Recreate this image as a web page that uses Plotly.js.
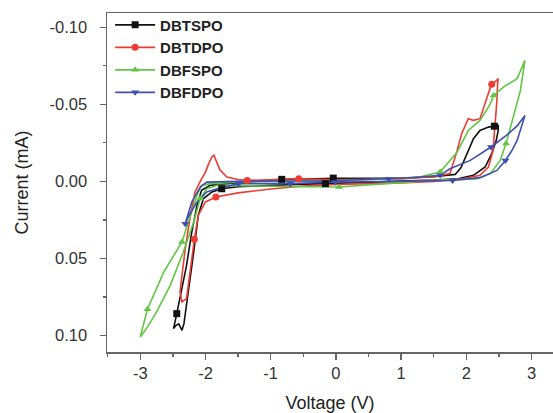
<!DOCTYPE html>
<html>
<head>
<meta charset="utf-8">
<script src="https://cdn.plot.ly/plotly-3.0.1.min.js"></script>
<style>html,body{margin:0;padding:0;background:#fff;}#chart{width:553px;height:413px;}</style>
</head>
<body>
<div id="chart"></div>
<script>
// ---- Data (Voltage in V, Current in mA) ----
const seriesNames = ['DBTSPO', 'DBTDPO', 'DBFSPO', 'DBFDPO'];

const blackV = [0, 0.5, 1.0, 1.5, 1.83, 1.92, 2.01, 2.11, 2.21, 2.34, 2.43, 2.49, 2.49, 2.46, 2.39, 2.29, 2.11, 1.87, 1.5, 1.0, 0.5, -0.16, -0.5, -1.0, -1.5, -1.75, -1.90, -2.03, -2.11, -2.18, -2.26, -2.33, -2.36, -2.41, -2.45, -2.49, -2.44, -2.29, -2.21, -2.13, -2.06, -1.93, -1.5, -0.83, -0.5, -0.04, 0];
const blackI = [-0.002, -0.002, -0.0022, -0.003, -0.0045, -0.009, -0.018, -0.0277, -0.033, -0.0352, -0.0358, -0.0363, -0.033, -0.0266, -0.018, -0.0093, -0.0039, -0.0017, -0.0008, 0.0, 0.0008, 0.0015, 0.0018, 0.0025, 0.0035, 0.0048, 0.0069, 0.0112, 0.022, 0.0459, 0.0718, 0.0924, 0.0967, 0.0925, 0.0935, 0.0956, 0.0859, 0.0545, 0.0329, 0.0156, 0.0058, 0.0026, 0.0008, -0.0013, -0.0015, -0.0021, -0.002];
const blackMarkV = [2.43, -0.04, -0.16, -0.83, -1.75, -2.44];
const blackMarkI = [-0.0358, -0.0021, 0.0015, -0.0013, 0.0048, 0.0859];

const redV = [0, 0.5, 1.0, 1.5, 1.75, 1.86, 1.93, 2.03, 2.11, 2.21, 2.29, 2.37, 2.39, 2.44, 2.49, 2.48, 2.47, 2.44, 2.41, 2.34, 2.21, 1.95, 1.5, 1.0, 0.5, 0, -0.5, -1.0, -1.5, -1.84, -2.00, -2.11, -2.17, -2.23, -2.29, -2.36, -2.39, -2.36, -2.31, -2.23, -2.16, -2.08, -2.00, -1.95, -1.90, -1.87, -1.83, -1.78, -1.67, -1.5, -1.36, -1.0, -0.57, 0];
const redI = [-0.001, -0.0012, -0.0015, -0.003, -0.005, -0.020, -0.031, -0.0407, -0.0396, -0.0407, -0.0515, -0.061, -0.063, -0.0645, -0.0667, -0.063, -0.0526, -0.035, -0.020, -0.0093, -0.0039, -0.0017, 0.0, 0.001, 0.0015, 0.002, 0.003, 0.005, 0.0075, 0.0102, 0.0134, 0.022, 0.0376, 0.0589, 0.0761, 0.0783, 0.0718, 0.061, 0.0437, 0.022, 0.0069, 0.0, -0.006, -0.0115, -0.016, -0.0169, -0.013, -0.0075, -0.0028, -0.0012, -0.0006, -0.001, -0.0017, -0.001];
const redMarkV = [2.39, -0.57, -1.36, -1.84, -2.17];
const redMarkI = [-0.063, -0.0017, -0.0006, 0.0102, 0.0376];

const greenV = [0, 0.5, 1.0, 1.3, 1.60, 1.70, 1.86, 2.03, 2.21, 2.37, 2.42, 2.57, 2.78, 2.90, 2.83, 2.72, 2.61, 2.52, 2.37, 2.16, 1.86, 1.5, 1.0, 0.5, 0.05, -0.5, -1.0, -1.5, -1.82, -1.98, -2.08, -2.18, -2.34, -2.54, -2.75, -2.88, -3.00, -2.89, -2.64, -2.36, -2.23, -2.13, -2.06, -1.93, -1.5, -1.0, -0.5, 0];
const greenI = [-0.0005, -0.001, -0.002, -0.003, -0.006, -0.011, -0.019, -0.033, -0.0396, -0.0504, -0.0558, -0.0612, -0.0667, -0.0785, -0.059, -0.0417, -0.0245, -0.0136, -0.005, -0.0015, -0.0012, -0.0008, 0.0008, 0.0025, 0.0037, 0.0035, 0.0032, 0.003, 0.0026, 0.0048, 0.0112, 0.0264, 0.0459, 0.0675, 0.0848, 0.094, 0.101, 0.083, 0.0589, 0.0394, 0.022, 0.0091, 0.0026, 0.0015, 0.0005, 0.0, -0.0003, -0.0005];
const greenMarkV = [2.42, 2.61, 1.60, 0.05, -2.08, -2.36, -2.89];
const greenMarkI = [-0.0558, -0.0245, -0.006, 0.0037, 0.0112, 0.0394, 0.083];

const blueV = [0, 0.81, 1.2, 1.6, 1.75, 2.06, 2.38, 2.62, 2.78, 2.90, 2.85, 2.78, 2.70, 2.60, 2.47, 2.21, 1.79, 1.2, 0.5, -0.01, -0.70, -1.2, -1.49, -1.82, -1.98, -2.13, -2.25, -2.31, -2.21, -2.08, -1.98, -1.5, -1.0, -0.5, 0];
const blueI = [-0.0004, -0.0015, -0.0025, -0.0039, -0.0082, -0.0136, -0.0223, -0.030, -0.036, -0.0428, -0.0363, -0.0266, -0.020, -0.0136, -0.0071, -0.0024, -0.0006, 0.0, 0.0003, 0.0004, 0.0015, 0.0015, 0.0015, 0.0048, 0.0069, 0.0134, 0.022, 0.0275, 0.0134, 0.0037, 0.0005, 0.0, -0.0002, -0.0003, -0.0004];
const blueMarkV = [2.38, 2.60, 1.79, 1.60, 0.81, -0.01, -0.70, -1.49, -2.31];
const blueMarkI = [-0.0223, -0.0136, -0.0006, -0.0039, -0.0015, 0.0004, 0.0015, 0.0015, 0.0275];

const xTickVals = [-3, -2, -1, 0, 1, 2, 3];
const xTickText = ['-3', '-2', '-1', '0', '1', '2', '3'];
const yTickVals = [-0.10, -0.05, 0.00, 0.05, 0.10];
const yTickText = ['-0.10', '-0.05', '0.00', '0.05', '0.10'];

// ---- Styles ----
const colors = ['#111111', '#ee3b33', '#62c644', '#3f4fb0'];
const symbols = ['square', 'circle', 'triangle-up', 'triangle-down'];
const loops = [[blackV, blackI], [redV, redI], [greenV, greenI], [blueV, blueI]];
const marks = [[blackMarkV, blackMarkI], [redMarkV, redMarkI], [greenMarkV, greenMarkI], [blueMarkV, blueMarkI]];

function sep(a) { const out = []; a.forEach((v, i) => { if (i) out.push(null); out.push(v); }); return out; }

const FONT = 'Liberation Sans, Arial, sans-serif';
const traces = [];
seriesNames.forEach((name, k) => {
  traces.push({
    x: loops[k][0], y: loops[k][1], mode: 'lines', type: 'scatter',
    line: {color: colors[k], width: 1.6},
    showlegend: false, hoverinfo: 'skip', legendgroup: name
  });
});
seriesNames.forEach((name, k) => {
  traces.push({
    x: sep(marks[k][0]), y: sep(marks[k][1]), mode: 'lines+markers', type: 'scatter',
    name: name, legendgroup: name, connectgaps: false,
    line: {color: colors[k], width: 1.6},
    marker: {color: colors[k], symbol: symbols[k], size: 7}
  });
});

const layout = {
  width: 553, height: 413,
  margin: {l: 107, r: 0, t: 13, b: 61},
  paper_bgcolor: '#fff', plot_bgcolor: '#fff',
  font: {family: FONT, color: '#333', size: 16.5},
  showlegend: true,
  legend: {
    x: 0.007, y: 1.013, xanchor: 'left', yanchor: 'top',
    bgcolor: 'rgba(0,0,0,0)', borderwidth: 0,
    font: {family: FONT, size: 15, color: '#222', weight: 'bold'},
    itemwidth: 40, tracegroupgap: 0
  },
  xaxis: {
    range: [-3.51, 3.33], tickvals: xTickVals, ticktext: xTickText,
    ticks: 'outside', ticklen: 6, tickwidth: 1.3, tickcolor: '#666',
    minor: {dtick: 0.5, tick0: 0, ticks: 'outside', ticklen: 3, tickwidth: 1.3, tickcolor: '#666'},
    showline: true, linecolor: '#666', linewidth: 1.5, mirror: true,
    showgrid: false, zeroline: false,
    tickfont: {size: 16.5, color: '#333'},
    title: {text: 'Voltage (V)', font: {size: 18, color: '#222'}, standoff: 16}
  },
  yaxis: {
    range: [0.1108, -0.1093], tickvals: yTickVals, ticktext: yTickText,
    ticks: 'outside', ticklen: 6, tickwidth: 1.3, tickcolor: '#666',
    minor: {dtick: 0.025, tick0: 0, ticks: 'outside', ticklen: 3, tickwidth: 1.3, tickcolor: '#666'},
    showline: true, linecolor: '#666', linewidth: 1.5, mirror: false,
    showgrid: false, zeroline: false, ticklabelstandoff: 9,
    tickfont: {size: 16.5, color: '#333'},
    title: {text: 'Current (mA)', font: {size: 18, color: '#222'}, standoff: 16}
  }
};

Plotly.newPlot('chart', traces, layout, {staticPlot: true, displayModeBar: false});
</script>
</body>
</html>
